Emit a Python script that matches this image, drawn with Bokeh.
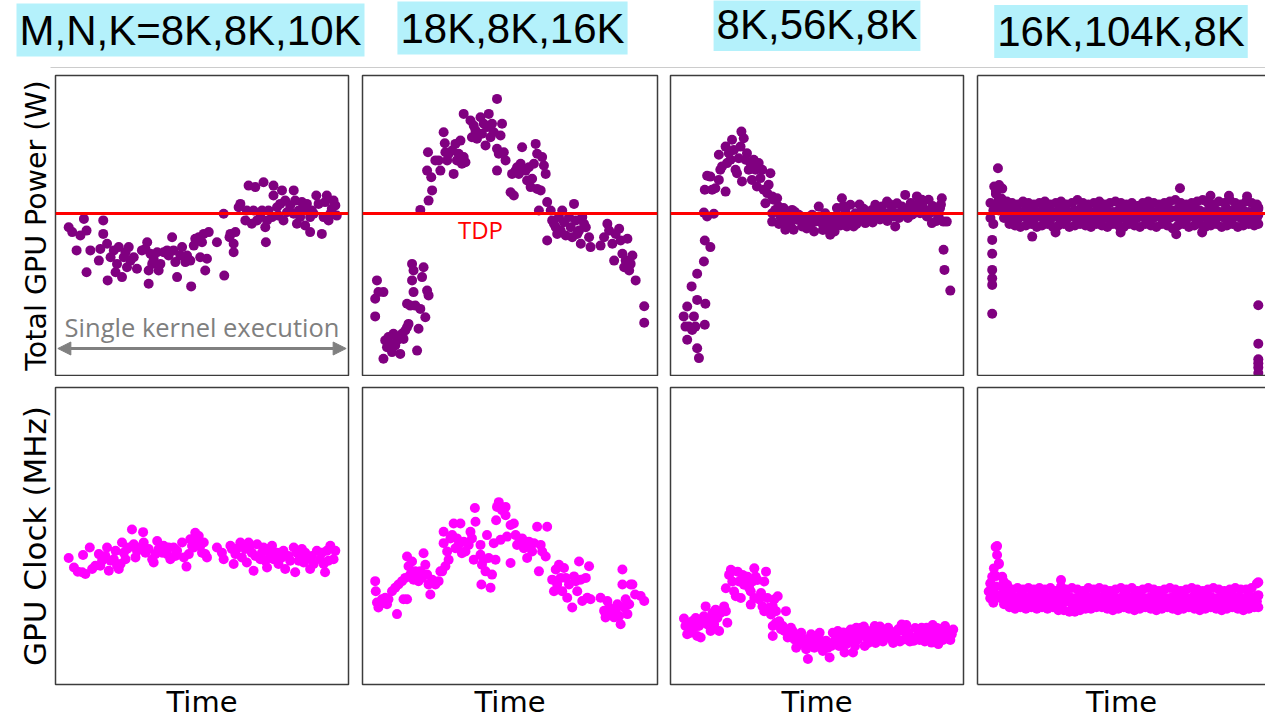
from bokeh.plotting import figure
from bokeh.layouts import row, column
from bokeh.models import Span, Label, Arrow, NormalHead, Range1d, LinearAxis
from bokeh.embed import file_html
from bokeh.resources import INLINE

# ---------------- texts ----------------
titles = ["M,N,K=8K,8K,10K", "18K,8K,16K", "8K,56K,8K", "16K,104K,8K"]
power_label = "Total GPU Power (W)"
clock_label = "GPU Clock (MHz)"
time_label = "Time"
tdp_text = "TDP"
kernel_text = "Single kernel execution"
tdp_level = 54.0   # relative power units (panel spans 0..100)

# ---------------- panel 1 : M,N,K = 8K,8K,10K ----------------
p1_time = [4.5, 5.7, 7.2, 8.5, 9.7, 10.6, 10.6, 11.9, 14.8, 15.3,
           16.3, 16.3, 17.6, 17.8, 18.8, 19.9, 20.5, 21.0, 21.6, 22.7,
           23.3, 23.9, 24.4, 25.0, 25.6, 26.7, 27.8, 29.5, 30.7, 31.3,
           31.8, 31.8, 32.4, 33.0, 33.5, 34.7, 35.2, 35.8, 36.9, 38.1,
           38.6, 39.8, 40.3, 40.9, 41.5, 42.6, 43.2, 44.3, 44.9, 46.0,
           46.3, 47.2, 47.7, 48.9, 49.4, 50.0, 50.6, 51.1, 51.7, 52.3,
           55.1, 57.6, 57.4, 59.4, 59.7, 60.8, 60.8, 61.4, 62.5, 63.1,
           64.8, 65.3, 65.9, 67.0, 67.6, 68.2, 68.8, 69.9, 70.5, 71.0,
           71.6, 71.8, 72.2, 72.7, 73.9, 74.4, 74.4, 75.6, 76.1, 76.7,
           77.3, 77.8, 78.4, 79.0, 80.1, 81.3, 81.3, 81.8, 82.4, 83.0,
           83.5, 84.1, 84.7, 85.2, 85.8, 86.9, 86.9, 87.5, 88.1, 89.0,
           89.8, 90.9, 91.5, 92.0, 92.6, 93.2, 93.8, 94.3, 94.9, 95.5,
           96.0]
p1_power = [49.4, 47.8, 41.7, 46.7, 52.2, 48.3, 34.4, 41.7, 38.3, 42.2,
            51.7, 47.2, 43.9, 31.7, 39.4, 41.7, 34.4, 37.2, 42.8, 32.8,
            39.4, 41.1, 36.1, 42.8, 38.3, 39.4, 35.6, 41.7, 42.2, 44.4,
            35.0, 30.6, 40.6, 37.2, 38.9, 41.1, 35.0, 37.2, 41.1, 41.7,
            40.0, 46.1, 41.7, 37.8, 32.8, 40.0, 42.8, 37.8, 40.0, 38.3,
            29.7, 43.3, 45.6, 46.1, 39.4, 44.4, 47.2, 35.0, 38.9, 47.8,
            44.4, 33.3, 53.9, 46.1, 47.2, 41.1, 43.9, 47.8, 56.1, 57.2,
            51.7, 55.0, 63.3, 50.6, 55.0, 62.8, 51.7, 52.8, 55.0, 64.4,
            49.4, 44.4, 51.7, 55.0, 52.8, 63.3, 60.0, 56.1, 53.3, 57.2,
            61.7, 51.7, 58.3, 54.4, 56.7, 61.7, 53.9, 58.3, 50.6, 55.0,
            52.8, 57.8, 55.0, 50.0, 57.2, 47.8, 52.8, 55.0, 53.9, 60.0,
            57.2, 47.2, 52.8, 57.8, 60.0, 51.7, 53.9, 55.6, 58.3, 56.7,
            53.3]
c1_time = [4.5, 6.3, 7.6, 9.1, 10.2, 9.4, 11.7, 12.5, 13.6, 14.8,
           15.3, 15.9, 17.0, 17.6, 18.2, 18.8, 19.9, 20.5, 21.0, 21.6,
           22.2, 22.7, 23.3, 23.9, 24.4, 25.0, 26.1, 26.7, 27.3, 27.8,
           29.0, 29.9, 30.1, 30.7, 31.8, 33.0, 33.5, 34.1, 34.7, 35.2,
           36.4, 36.9, 38.1, 38.6, 39.2, 40.3, 40.9, 41.5, 43.2, 43.8,
           44.7, 45.5, 46.0, 46.6, 47.2, 47.7, 48.3, 48.9, 49.4, 50.0,
           50.6, 51.1, 51.7, 55.1, 56.8, 57.4, 59.7, 60.2, 60.8, 61.4,
           62.5, 63.1, 63.6, 64.8, 65.3, 65.9, 66.5, 67.0, 67.6, 68.2,
           68.8, 69.9, 70.5, 71.0, 71.6, 72.2, 72.7, 73.3, 73.9, 74.4,
           75.6, 76.1, 77.3, 77.8, 78.4, 79.5, 80.1, 81.3, 81.8, 82.4,
           83.0, 83.5, 84.1, 84.7, 85.2, 85.8, 86.9, 87.5, 88.1, 89.2,
           90.3, 90.9, 91.5, 92.0, 92.6, 93.2, 93.8, 94.9, 95.5]
c1_clock = [42.6, 39.4, 38.0, 37.8, 37.2, 43.6, 46.1, 38.9, 40.0, 43.9,
            40.0, 41.7, 43.3, 46.1, 38.3, 41.7, 42.2, 45.0, 40.0, 38.9,
            40.6, 47.8, 44.4, 42.2, 45.6, 46.1, 52.2, 47.2, 42.8, 45.0,
            46.1, 51.3, 47.8, 44.4, 45.6, 42.2, 41.1, 43.9, 48.3, 45.6,
            44.4, 46.7, 43.9, 46.1, 42.2, 46.1, 43.3, 45.0, 47.8, 42.8,
            39.7, 43.9, 48.9, 46.7, 46.1, 51.1, 48.9, 50.0, 46.7, 44.4,
            47.8, 43.9, 42.8, 46.1, 44.4, 42.2, 46.7, 45.6, 40.6, 43.9,
            46.1, 47.8, 42.8, 45.6, 41.1, 47.8, 46.7, 44.4, 38.3, 43.3,
            47.2, 42.2, 44.4, 46.1, 41.7, 39.4, 45.6, 43.9, 46.7, 42.2,
            44.4, 40.6, 42.8, 45.0, 38.9, 43.3, 41.7, 46.1, 37.8, 44.4,
            41.7, 43.3, 45.6, 41.1, 44.4, 42.2, 38.9, 43.3, 40.6, 45.0,
            42.2, 44.4, 40.6, 37.8, 45.0, 41.7, 46.7, 42.2, 45.0]

# ---------------- panel 2 : 18K,8K,16K ----------------
p2_time = [4.9, 4.3, 5.4, 7.1, 4.3, 7.1, 7.7, 8.3, 8.8, 9.4,
           10.0, 10.5, 11.1, 11.7, 12.2, 12.8, 13.4, 13.9, 14.5, 15.1,
           15.6, 15.1, 16.2, 16.8, 17.3, 16.8, 17.3, 17.9, 18.5, 19.0,
           19.6, 20.2, 20.7, 21.3, 21.9, 22.4, 19.6, 22.4, 23.6, 23.3,
           21.9, 22.2, 24.7, 25.8, 26.4, 27.5, 27.9, 28.1, 28.7, 29.2,
           30.4, 30.9, 31.5, 32.0, 32.6, 33.2, 33.7, 34.3, 34.9, 34.3,
           36.6, 37.1, 37.7, 38.3, 38.8, 40.0, 40.5, 41.1, 41.7, 42.2,
           42.8, 43.4, 43.9, 44.5, 45.6, 45.6, 46.2, 46.8, 47.3, 47.9,
           48.5, 45.6, 50.2, 50.7, 51.3, 51.9, 52.4, 53.0, 53.6, 54.1,
           54.7, 55.3, 55.8, 56.4, 57.0, 57.5, 58.1, 58.7, 59.2, 59.2,
           59.8, 60.4, 60.9, 61.5, 62.1, 62.6, 62.6, 63.8, 64.3, 64.9,
           65.5, 66.0, 66.6, 67.2, 67.7, 68.3, 68.9, 70.0, 70.6, 71.1,
           71.7, 72.3, 72.8, 73.4, 74.0, 74.5, 75.1, 75.7, 76.8, 77.3,
           80.7, 81.9, 83.0, 83.6, 84.7, 85.3, 85.8, 87.0, 87.5, 88.1,
           88.7, 89.2, 89.8, 90.4, 90.9, 91.5, 92.6, 95.5, 95.5]
p2_power = [31.7, 25.6, 27.8, 27.8, 19.7, 5.6, 11.7, 9.4, 12.8, 10.6,
            7.8, 13.9, 10.0, 11.7, 12.8, 7.2, 13.9, 12.2, 15.0, 16.1,
            17.2, 23.9, 23.3, 37.2, 35.0, 31.7, 27.8, 23.3, 8.3, 15.6,
            22.2, 32.8, 36.1, 19.4, 28.3, 26.7, 55.2, 58.3, 61.7, 66.1,
            68.3, 74.4, 71.7, 71.7, 68.3, 81.1, 77.4, 74.4, 71.7, 73.9,
            75.0, 67.2, 77.2, 71.7, 73.9, 78.3, 70.6, 72.8, 71.1, 87.2,
            85.0, 79.4, 83.3, 81.7, 78.9, 86.1, 80.6, 83.9, 76.7, 82.8,
            87.2, 79.4, 83.9, 81.1, 92.2, 75.6, 73.9, 80.0, 83.9, 74.4,
            71.7, 68.3, 61.1, 67.2, 60.0, 68.3, 69.4, 67.2, 70.6, 76.1,
            68.9, 68.3, 65.0, 69.4, 62.8, 65.6, 70.6, 77.2, 73.9, 62.2,
            55.0, 61.7, 72.8, 70.0, 67.2, 57.8, 45.0, 55.0, 51.7, 50.6,
            49.4, 47.2, 52.8, 48.3, 55.0, 51.1, 46.7, 52.8, 49.4, 46.1,
            57.2, 51.7, 47.2, 48.3, 43.9, 52.8, 50.6, 49.4, 46.1, 42.8,
            43.3, 46.1, 50.6, 48.3, 43.9, 38.3, 47.2, 48.9, 45.0, 40.6,
            36.1, 38.3, 45.6, 35.0, 37.2, 40.0, 31.7, 23.1, 17.6]
c2_time = [4.3, 4.5, 4.9, 5.4, 6.0, 6.6, 7.1, 7.7, 8.3, 8.8,
           10.0, 11.1, 11.7, 12.2, 13.4, 13.9, 14.5, 15.1, 15.1, 15.6,
           16.2, 16.8, 17.3, 17.9, 18.5, 19.0, 19.6, 20.2, 20.7, 21.3,
           21.9, 22.4, 23.0, 23.6, 24.7, 25.8, 26.4, 27.0, 27.5, 27.5,
           28.1, 28.7, 29.2, 29.8, 30.4, 30.9, 31.5, 32.0, 32.6, 33.2,
           33.7, 34.3, 34.9, 36.0, 36.6, 37.1, 37.7, 38.1, 38.3, 40.0,
           40.0, 40.3, 40.5, 41.1, 41.7, 42.2, 42.8, 43.4, 43.9, 44.5,
           45.1, 45.3, 45.6, 46.2, 46.8, 47.3, 48.5, 48.5, 49.0, 50.2,
           50.2, 51.3, 51.9, 52.4, 53.0, 54.1, 54.7, 55.3, 55.8, 56.4,
           57.0, 57.5, 58.1, 59.2, 59.8, 60.4, 60.9, 62.1, 62.6, 64.3,
           64.9, 65.5, 66.0, 66.6, 67.2, 67.7, 68.3, 68.9, 69.4, 70.0,
           71.1, 71.7, 72.3, 72.8, 73.4, 74.0, 74.5, 75.7, 76.2, 76.8,
           77.3, 80.7, 81.9, 82.4, 83.0, 83.6, 84.1, 84.7, 85.3, 85.8,
           86.4, 87.0, 87.5, 88.1, 88.1, 88.7, 89.2, 89.8, 90.4, 90.9,
           91.5, 92.4, 94.3, 95.5]
c2_clock = [34.8, 31.4, 27.6, 25.9, 27.0, 28.7, 27.6, 29.2, 27.0, 28.7,
            31.4, 32.6, 23.7, 33.7, 34.8, 28.7, 35.9, 43.1, 28.7, 39.8,
            37.0, 41.4, 35.3, 38.1, 36.4, 34.8, 38.1, 35.9, 44.2, 40.3,
            37.0, 33.7, 30.3, 35.3, 33.7, 34.8, 38.1, 38.1, 51.4, 47.6,
            39.8, 44.8, 42.0, 49.2, 50.3, 54.2, 45.9, 49.2, 47.0, 54.2,
            44.2, 48.1, 44.8, 47.0, 51.4, 49.2, 42.0, 59.4, 54.8, 47.0,
            43.7, 33.7, 40.3, 42.0, 38.1, 50.3, 42.6, 32.6, 37.0, 47.6,
            42.0, 55.3, 59.8, 61.4, 48.7, 58.7, 59.8, 57.0, 49.8, 40.9,
            53.7, 54.2, 50.3, 47.0, 47.6, 49.2, 45.9, 47.0, 42.6, 48.1,
            47.0, 44.8, 47.6, 53.1, 38.1, 47.0, 44.8, 43.1, 53.1, 35.3,
            31.4, 38.7, 33.7, 40.3, 35.9, 31.4, 39.2, 35.9, 29.2, 33.7,
            25.9, 36.4, 34.8, 31.4, 41.4, 35.3, 28.1, 35.9, 29.2, 39.8,
            28.7, 29.2, 24.8, 22.6, 28.1, 25.9, 23.7, 24.8, 22.6, 24.8,
            27.0, 23.1, 20.3, 38.7, 33.7, 25.9, 28.7, 23.7, 27.0, 33.7,
            33.7, 30.3, 29.8, 28.1]

# ---------------- panel 3 : 8K,56K,8K ----------------
p3_time = [4.5, 5.1, 5.7, 6.3, 5.7, 7.4, 8.0, 8.5, 9.1, 9.7,
           9.1, 7.2, 9.1, 11.4, 11.7, 13.6, 11.9, 11.7, 11.4, 12.5,
           14.8, 11.7, 12.5, 13.6, 14.2, 15.3, 16.5, 17.0, 17.6, 18.8,
           19.3, 16.5, 18.8, 19.9, 20.5, 21.0, 21.6, 22.2, 22.7, 23.3,
           23.9, 24.2, 25.0, 24.4, 25.6, 26.1, 26.7, 27.3, 27.8, 28.4,
           29.0, 29.5, 30.1, 30.7, 31.3, 31.8, 32.4, 33.0, 33.5, 34.1,
           34.7, 35.2, 35.8, 34.7, 34.7, 36.4, 36.9, 37.5, 38.6, 39.2,
           39.8, 40.9, 41.5, 42.0, 43.2, 43.8, 44.9, 46.0, 47.2, 48.3,
           49.4, 50.6, 51.1, 51.7, 52.8, 53.4, 54.0, 54.5, 55.1, 56.3,
           56.8, 57.4, 58.5, 59.1, 59.7, 60.2, 61.4, 61.9, 62.5, 63.1,
           64.2, 65.3, 65.9, 66.5, 67.6, 68.8, 69.9, 70.5, 71.0, 72.2,
           73.3, 73.9, 74.4, 75.6, 76.7, 77.3, 77.8, 79.0, 80.1, 81.3,
           82.4, 83.5, 84.1, 84.7, 85.2, 85.8, 86.9, 88.1, 88.6, 89.2,
           90.3, 91.5, 92.0, 92.6, 93.2, 94.3, 93.2, 93.5, 95.5,
           37.0, 38.0, 40.0, 41.0, 42.5, 44.0, 45.5, 46.5, 48.0, 49.0,
           50.0, 52.0, 53.0, 55.5, 56.0, 58.0, 59.0, 60.5, 62.0, 63.5,
           64.5, 66.0, 67.0, 68.0, 69.0, 71.5, 72.5, 74.0, 75.0, 76.0,
           78.0, 79.5, 81.0, 82.0, 83.0, 86.0, 87.5, 89.5, 90.8, 92.3]
p3_power = [19.7, 16.3, 23.0, 16.3, 11.9, 15.2, 19.7, 16.3, 9.1, 5.8,
            25.2, 29.7, 33.9, 38.0, 45.0, 42.8, 23.9, 16.9, 54.3, 53.0,
            53.9, 61.9, 66.6, 66.3, 61.9, 62.4, 65.2, 68.6, 69.7, 61.3,
            70.8, 73.6, 76.3, 74.1, 71.9, 78.6, 75.2, 68.6, 67.4, 72.4,
            76.3, 81.3, 79.1, 64.7, 71.9, 74.1, 68.6, 70.8, 65.2, 71.9,
            68.6, 63.0, 70.8, 65.8, 68.6, 61.9, 57.4, 60.8, 63.6, 67.4,
            59.7, 58.6, 55.2, 54.1, 51.3, 59.1, 56.3, 53.0, 55.8, 48.6,
            52.4, 53.6, 55.2, 48.6, 51.9, 53.6, 49.7, 52.4, 51.9, 53.6,
            51.3, 56.3, 53.0, 50.8, 54.1, 49.7, 51.3, 46.9, 49.7, 50.8,
            55.8, 53.0, 59.1, 51.9, 54.7, 49.7, 56.9, 53.0, 49.7, 54.1,
            52.4, 55.8, 53.0, 50.8, 54.1, 55.2, 56.9, 52.4, 54.7, 56.3,
            53.0, 58.0, 54.1, 55.2, 49.7, 57.4, 54.1, 56.3, 60.2, 55.8,
            53.6, 56.3, 59.7, 57.4, 54.1, 58.6, 55.2, 58.6, 54.1, 50.8,
            55.2, 53.0, 55.8, 59.1, 51.3, 51.3, 41.9, 35.2, 28.3,
            50.5, 52.0, 50.0, 51.0, 54.5, 52.0, 50.0, 49.0, 50.5, 48.0,
            52.5, 48.5, 52.0, 52.5, 48.0, 50.0, 56.5, 52.0, 51.5, 50.5,
            57.0, 55.5, 51.5, 53.0, 51.0, 52.0, 54.0, 51.5, 57.0, 53.0,
            52.5, 54.0, 52.5, 57.5, 54.0, 56.5, 53.0, 56.5, 51.5, 57.0]
c3_time = [4.6, 5.1, 5.7, 6.3, 6.9, 7.4, 8.0, 8.6, 9.1, 9.7,
           10.3, 10.9, 11.4, 12.0, 12.6, 13.1, 13.7, 14.3, 14.9, 15.4,
           16.0, 16.6, 17.1, 18.3, 18.9, 19.4, 18.9, 20.0, 20.6, 21.1,
           21.7, 22.3, 22.9, 23.4, 24.0, 24.6, 25.1, 25.7, 26.3, 26.9,
           27.4, 28.0, 28.6, 29.1, 29.7, 27.4, 28.6, 30.3, 30.9, 31.4,
           32.0, 32.6, 32.0, 33.1, 33.7, 34.3, 34.9, 35.4, 36.0, 36.6,
           37.1, 34.9, 34.9, 36.0, 37.7, 38.3, 38.9, 39.4, 40.0, 40.6,
           41.1, 41.7, 42.3, 42.9, 43.4, 44.0, 44.6, 45.1, 45.7, 46.3,
           46.9, 47.4, 48.0, 48.6, 49.1, 49.7, 50.3, 50.9, 51.4, 52.0,
           52.6, 53.1, 53.7, 54.3, 54.9, 55.4, 56.0, 57.1, 57.7, 58.3,
           59.4, 60.0, 60.6, 61.1, 62.3, 62.9, 63.4, 64.0, 65.1, 65.7,
           66.3, 66.9, 67.4, 68.6, 69.7, 70.3, 70.9, 72.0, 73.1, 74.3,
           75.4, 76.6, 77.7, 78.9, 79.4, 80.0, 81.1, 82.3, 82.9, 84.6,
           85.7, 86.3, 87.4, 88.0, 88.6, 89.1, 89.7, 90.3, 90.9, 91.4,
           92.0, 92.6, 93.7, 94.3, 94.9, 96.0,
           57.5, 59.0, 61.5, 63.0, 64.5, 66.0, 67.5, 69.0, 70.0, 71.5,
           72.5, 73.8, 75.0, 76.0, 77.0, 78.3, 79.8, 80.5, 81.7, 83.5,
           84.0, 85.0, 86.8, 87.8, 89.5, 91.0, 93.0, 95.5, 96.5]
c3_clock = [22.2, 19.7, 16.9, 20.2, 17.4, 21.3, 19.1, 22.4, 16.3, 19.7,
            15.8, 20.8, 23.0, 26.3, 20.2, 21.9, 18.0, 24.1, 20.2, 25.2,
            22.4, 18.0, 24.1, 26.3, 24.7, 20.8, 32.4, 36.9, 38.6, 34.7,
            31.3, 29.7, 38.0, 34.7, 29.1, 36.9, 33.6, 35.2, 36.3, 32.4,
            31.3, 34.7, 39.1, 36.3, 35.2, 26.9, 29.1, 28.6, 30.8, 26.3,
            34.7, 38.0, 24.7, 29.1, 25.8, 23.6, 26.3, 28.6, 24.7, 29.7,
            21.3, 19.7, 16.3, 20.8, 18.6, 19.7, 18.0, 24.7, 15.8, 16.9,
            19.1, 18.0, 15.2, 12.4, 16.3, 14.7, 17.4, 13.6, 15.2, 11.9,
            8.6, 13.6, 16.9, 14.7, 12.4, 15.8, 13.6, 17.4, 14.7, 11.3,
            13.6, 14.7, 12.4, 9.1, 13.0, 17.4, 14.7, 18.0, 16.9, 15.2,
            10.8, 13.6, 16.3, 14.7, 10.8, 16.9, 19.1, 15.2, 19.1, 16.9,
            13.0, 15.8, 18.0, 15.8, 19.7, 17.4, 15.2, 18.0, 15.8, 19.1,
            15.2, 16.9, 18.6, 20.2, 18.0, 15.2, 17.4, 15.8, 14.7, 17.4,
            19.1, 16.9, 19.1, 15.8, 18.0, 14.1, 18.0, 16.3, 15.2, 13.6,
            17.4, 18.6, 19.7, 16.9, 18.0, 16.9,
            13.0, 17.5, 18.5, 13.0, 17.5, 19.5, 14.0, 17.0, 14.0, 19.5,
            14.5, 17.0, 18.0, 14.0, 16.0, 14.5, 18.5, 20.0, 14.5, 19.0,
            15.5, 15.0, 14.5, 17.5, 20.0, 19.0, 15.0, 15.0, 18.5]

# ---------------- panel 4 : 16K,104K,8K (four overlaid runs + outliers) ----------------
p4_time_a = [4.5, 6.4, 8.3, 10.2, 12.0, 13.9, 15.8, 17.7, 19.6, 21.5,
             23.4, 25.3, 27.2, 29.0, 30.9, 32.8, 34.7, 36.6, 38.5, 40.4,
             42.3, 44.2, 46.0, 47.9, 49.8, 51.7, 53.6, 55.5, 57.4, 59.3,
             61.2, 63.0, 64.9, 66.8, 68.7, 70.6, 72.5, 74.4, 76.3, 78.2,
             80.0, 81.9, 83.8, 85.7, 87.6, 89.5, 91.4, 93.3, 95.2, 97.0]
p4_time_b = [5.5, 7.4, 9.2, 11.1, 13.0, 14.9, 16.8, 18.7, 20.6, 22.4,
             24.3, 26.2, 28.1, 30.0, 31.9, 33.8, 35.6, 37.5, 39.4, 41.3,
             43.2, 45.1, 47.0, 48.9, 50.8, 52.6, 54.5, 56.4, 58.3, 60.2,
             62.1, 64.0, 65.9, 67.8, 69.6, 71.5, 73.4, 75.3, 77.2, 79.1,
             81.0, 82.9, 84.8, 86.6, 88.5, 90.4, 92.3, 94.2, 96.1, 97.5]
p4_power_run1 = [57.5, 60.5, 59, 58, 57.5, 57, 58, 57.5, 57, 57.5,
                 58, 57, 57.5, 58, 57, 57.5, 58.5, 57.5, 57, 57.5,
                 58, 57, 57.5, 58, 57.5, 57, 57.5, 56.5, 57.5, 58,
                 57.5, 57, 57.5, 58, 58.5, 57.5, 57, 57.5, 58, 58.5,
                 57.5, 57, 58, 57.5, 58.5, 57.5, 57, 58, 57.5, 57]
p4_power_run2 = [55, 59, 57, 55.5, 55, 54.5, 55.5, 55, 54.5, 55,
                 55.5, 54.5, 55, 55.5, 54.5, 55, 55.5, 55, 54.5, 55,
                 55.5, 55, 54.5, 55, 55.5, 55, 54.5, 55, 55.5, 55,
                 54.5, 55, 55.5, 55, 55.5, 55, 54.5, 55.5, 55, 54.5,
                 55.5, 55, 54.5, 55.5, 55, 55.5, 55, 54.5, 55, 55.5]
p4_power_run3 = [52.5, 57, 55, 53, 52.5, 52, 53, 52.5, 52, 53,
                 52.5, 52, 53, 52.5, 52, 53, 52.5, 53, 52, 52.5,
                 53, 52.5, 52, 53, 52.5, 52, 53, 52.5, 53, 52,
                 52.5, 53, 52, 52.5, 53, 52.5, 52, 53, 52.5, 53,
                 52, 52.5, 53, 52.5, 52, 53, 52.5, 53, 52, 52.5]
p4_power_run4 = [50.5, 55, 52.5, 50.5, 50, 49.5, 50, 50.5, 49.5, 50,
                 50.5, 49.5, 50, 50.5, 49.5, 50, 50.5, 50, 49.5, 50.5,
                 50, 49.5, 50.5, 50, 49.5, 50.5, 50, 49.5, 50.5, 50,
                 49.5, 50.5, 50, 49, 50, 50.5, 49.5, 50, 50.5, 49.5,
                 50, 50.5, 49.5, 50, 50.5, 49.5, 50, 50.5, 50, 50.5]
p4_extra_time = [7.1, 5.8, 7.5, 8.6, 6.4, 5.1, 5.1, 5.1, 5.1, 5.1,
                 5.1, 70.3, 80.9, 87.3, 93.6, 19.0, 49.7, 69.0, 78.0, 27.1,
                 97.5, 97.5, 97.5, 97.5, 97.5, 97.5, 97.5, 97.5]
p4_extra_power = [69.1, 63.0, 63.5, 62.3, 61.5, 45.2, 40.6, 35.2, 32.4, 30.2,
                  20.6, 62.4, 59.9, 59.9, 59.7, 46.3, 47.7, 47.1, 47.7, 47.7,
                  53.5, 56.0, 23.4, 10.6, 5.4, 4.1, 2.7, 0.8]
c4_clock_run1 = [34, 36.5, 33, 32.5, 32, 32.5, 32, 32.5, 32, 32.5,
                 32, 32.5, 31.5, 33, 32, 32.5, 32, 31.5, 32.5, 32,
                 32.5, 32, 31.5, 32, 32.5, 32, 32.5, 31.5, 32, 32.5,
                 32, 31.5, 32, 32.5, 32, 31.5, 32, 32.5, 32, 31.5,
                 32, 32.5, 32, 31.5, 32, 32.5, 32, 32, 32.5, 34]
c4_clock_run2 = [30.5, 40.5, 31, 30, 29.5, 30, 29.5, 30, 29.5, 30,
                 29.5, 30, 29, 30.5, 29.5, 29, 29.5, 30, 29.5, 30,
                 29.5, 30, 29.5, 29, 30, 29.5, 30, 29.5, 29, 29.5,
                 30, 29.5, 29, 29.5, 30, 29.5, 29, 30, 29.5, 30,
                 29.5, 29, 30, 29.5, 30, 29.5, 29, 30, 29.5, 30]
c4_clock_run3 = [29, 33, 29, 28, 27.5, 27.5, 28, 27.5, 28, 27.5,
                 28, 27.5, 27, 27.5, 28, 27, 27.5, 28, 27.5, 27,
                 27.5, 28, 27.5, 27, 27.5, 28, 27.5, 27, 28, 27.5,
                 27, 27.5, 28, 27.5, 27, 27.5, 28, 27.5, 27, 27.5,
                 28, 27.5, 27, 27.5, 28, 27.5, 27, 27.5, 28, 28]
c4_clock_run4 = [27.5, 30, 27, 26, 25.5, 26, 25.5, 26, 25.5, 26,
                 25.5, 26, 25, 25, 24.5, 24.5, 25, 25.5, 25.5, 26,
                 26, 25.5, 25, 25.5, 26, 25.5, 25, 25.5, 26, 25.5,
                 25, 25.5, 26, 25.5, 25, 25.5, 26, 25.5, 25, 25.5,
                 26, 25.5, 25, 25.5, 26, 25.5, 25, 25.5, 26, 26]
c4_extra_time = [6.8, 6.3, 6.8, 7.4, 5.7, 5.1, 8.6, 4.5, 3.9, 4.5,
                 9.1, 10.3, 29.0, 97.5, 97.5]
c4_extra_clock = [46.6, 46.3, 43.6, 40.8, 39.1, 36.3, 36.3, 34.1, 31.3, 29.1,
                  34.7, 33.6, 35.2, 34.4, 30.0]

# ---------------- styling ----------------
PURPLE = "#800080"
MAGENTA = "#ff00ff"
BORDER = "#3c3c3c"
CYAN = "#b4f1fb"
GRAY = "#808080"
TITLE_FONT = "Liberation Sans"
LABEL_FONT = "DejaVu Sans"

PAGE_W = 1265
STRIP_H = 70
# (frame width, left border, right border)
cols = [(293, 55, 13), (295, 1, 12), (293, 1, 13), (288, 1, 0)]
# title box centres in the header strip (pixels from the left / from the strip bottom)
title_pos = [(190, 40.5), (512, 42.5), (816.5, 46.0), (1120.5, 39.0)]
TOP_H = (5, 300, 1)       # border top, frame, border bottom
BOT_H = (11, 301, 33)


def style_axis(ax, line=False):
    ax.ticker = []
    ax.major_tick_in = 0
    ax.major_tick_out = 0
    ax.minor_tick_in = 0
    ax.minor_tick_out = 0
    ax.major_label_standoff = 0
    ax.axis_label_standoff = 0
    ax.axis_label_text_font = LABEL_FONT
    ax.axis_label_text_font_style = "normal"
    ax.axis_label_text_color = "black"
    if line:
        ax.axis_line_color = BORDER
        ax.axis_line_width = 1.5
    else:
        ax.axis_line_color = None


def base_fig(i, heights, top):
    fw, bl, br = cols[i]
    bt, fh, bb = heights
    p = figure(width=bl + fw + br, height=bt + fh + bb,
               x_range=Range1d(0, 100), y_range=Range1d(0, 100),
               output_backend="svg", toolbar_location=None,
               min_border_left=bl, min_border_right=br,
               min_border_top=bt, min_border_bottom=bb)
    p.grid.visible = False
    p.background_fill_color = "white"
    p.border_fill_color = "white"
    xax = p.below[0]
    yax = p.left[0]
    last = (i == 3)
    style_axis(xax, line=last)
    style_axis(yax, line=last)
    if last:
        # right edge of the last panel runs off the page: draw only three sides
        p.outline_line_color = None
        top_ax = LinearAxis()
        style_axis(top_ax, line=True)
        p.add_layout(top_ax, "above")
    else:
        p.outline_line_color = BORDER
        p.outline_line_width = 1.5
        yax.visible = (i == 0)
        xax.visible = not top
    return p, xax, yax


# ---------------- header strip with the four titles ----------------
head = figure(width=PAGE_W, height=STRIP_H, x_range=Range1d(0, PAGE_W),
              y_range=Range1d(0, STRIP_H), output_backend="svg",
              toolbar_location=None, min_border=0, title=None)
head.axis.visible = False
head.grid.visible = False
head.outline_line_color = None
head.background_fill_color = "white"
head.border_fill_color = "white"
head.line([50, PAGE_W], [3, 3], line_color="#cccccc", line_width=1)
for (tx, ty), txt in zip(title_pos, titles):
    tl = Label(x=tx, y=ty, text=txt, text_align="center", text_baseline="middle",
               text_font=TITLE_FONT, text_font_size="42px", text_color="black",
               background_fill_color=CYAN)
    try:
        tl.padding = 3
    except Exception:
        pass
    head.add_layout(tl)

top_figs = []
bot_figs = []
power_series = [(p1_time, p1_power), (p2_time, p2_power), (p3_time, p3_power)]
clock_series = [(c1_time, c1_clock), (c2_time, c2_clock), (c3_time, c3_clock)]

for i in range(4):
    # ---- power panel ----
    p, xax, yax = base_fig(i, TOP_H, True)
    if i == 0:
        yax.axis_label = power_label
        yax.axis_label_text_font_size = "28.5px"
        yax.axis_label_text_line_height = 1.0
        yax.axis_label_standoff = 3
    p.add_layout(Span(location=tdp_level, dimension="width",
                      line_color="#ff0000", line_width=3))
    if i < 3:
        xs, ys = power_series[i]
        p.scatter(xs, ys, size=10, marker="circle", fill_color=PURPLE, line_color=None)
    else:
        for xs, ys in [(p4_time_a, p4_power_run1), (p4_time_b, p4_power_run2),
                       (p4_time_a, p4_power_run3), (p4_time_b, p4_power_run4),
                       (p4_extra_time, p4_extra_power)]:
            p.scatter(xs, ys, size=10, marker="circle", fill_color=PURPLE, line_color=None)
    if i == 0:
        p.add_layout(Arrow(start=NormalHead(size=13, fill_color=GRAY, line_color=GRAY),
                           end=NormalHead(size=13, fill_color=GRAY, line_color=GRAY),
                           x_start=0.8, y_start=9, x_end=99.2, y_end=9,
                           line_color=GRAY, line_width=3))
        p.add_layout(Label(x=50, y=16.3, text=kernel_text, text_align="center",
                           text_baseline="middle", text_font="Open Sans",
                           text_font_size="25.5px", text_color="#7f7f7f"))
    if i == 1:
        p.add_layout(Label(x=40, y=48.7, text=tdp_text, text_align="center",
                           text_baseline="middle", text_font="Open Sans",
                           text_font_size="24px", text_color="#ff0000"))
    top_figs.append(p)

    # ---- clock panel ----
    q, qx, qy = base_fig(i, BOT_H, False)
    qx.visible = True
    qx.axis_label = time_label
    qx.axis_label_text_font_size = "29px"
    qx.axis_label_text_line_height = 0.95
    if i == 0:
        qy.axis_label = clock_label
        qy.axis_label_text_font_size = "31px"
        qy.axis_label_text_line_height = 1.0
        qy.axis_label_standoff = 3
    if i < 3:
        xs, ys = clock_series[i]
        q.scatter(xs, ys, size=10, marker="circle", fill_color=MAGENTA, line_color=None)
    else:
        for xs, ys in [(p4_time_a, c4_clock_run1), (p4_time_b, c4_clock_run2),
                       (p4_time_a, c4_clock_run3), (p4_time_b, c4_clock_run4),
                       (c4_extra_time, c4_extra_clock)]:
            q.scatter(xs, ys, size=10, marker="circle", fill_color=MAGENTA, line_color=None)
    bot_figs.append(q)

layout = column(head, row(*top_figs), row(*bot_figs))
open("out.html", "w").write(file_html(layout, INLINE))
